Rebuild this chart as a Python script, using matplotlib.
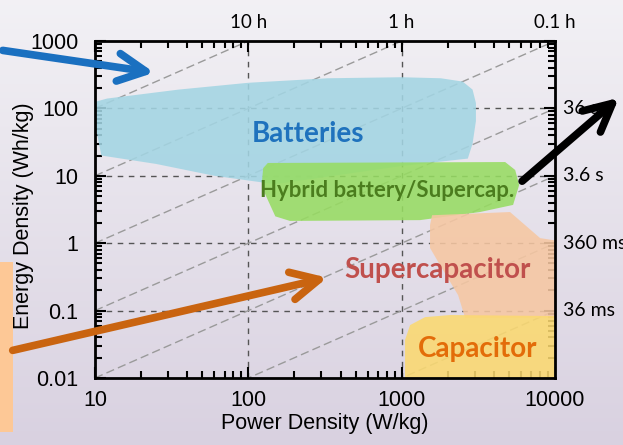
import matplotlib.pyplot as plt
import numpy as np
from matplotlib.patches import FancyArrowPatch, Polygon, Rectangle
from matplotlib.ticker import LogLocator, NullFormatter

plt.switch_backend("Agg")

# Region outlines, (power W/kg, energy Wh/kg)
batteries = [(10, 125), (12, 140), (35, 190), (100, 240), (330, 280), (1000, 290),
             (1800, 280), (2500, 250), (2900, 190), (3050, 120), (3050, 65),
             (2900, 30), (2700, 18), (1000, 14), (150, 7.5), (60, 10), (25, 15),
             (11, 20), (10, 60)]
hybrid = [(134, 15.5), (4730, 16), (5500, 12.2), (5840, 7.3), (5330, 3.7),
          (3240, 2.9), (1318, 2.2), (187, 2.14), (150, 2.5), (128, 5.5),
          (123, 8.7), (125, 13)]
supercap = [(1578, 2.6), (5090, 2.9), (8000, 1.19), (10000, 1.1), (10000, 0.078),
            (2594, 0.078), (2333, 0.17), (1778, 0.475), (1531, 0.85), (1531, 1.86)]
capacitor = [(1052, 0.01), (1052, 0.0367), (1135, 0.061), (1422, 0.080),
             (2070, 0.086), (10000, 0.083), (10000, 0.01)]

region_colors = ["#a3d5e3", "#97dc62", "#f6c7a2", "#fbd970"]
region_names = ["Batteries", "Hybrid battery/Supercap.", "Supercapacitor", "Capacitor"]
name_pos = [(245, 41), (800, 6.1), (1700, 0.40), (3150, 0.027)]
name_colors = ["#1f72bd", "#4b7d1e", "#c0504d", "#e36c09"]
name_sizes = [20, 16, 20, 20]

# constant discharge-time lines, in hours
time_lines = [10, 1, 0.1, 0.01, 0.001, 1e-4, 1e-5]
top_ticks = [100, 1000, 10000]
top_labels = ["10 h", "1 h", "0.1 h"]
right_ticks = [100, 10, 1, 0.1]
right_labels = ["36 s", "3.6 s", "360 ms", "36 ms"]

W, H = 623, 445
fig = plt.figure(figsize=(W / 100, H / 100), dpi=100)

# slide background
bg = fig.add_axes([0, 0, 1, 1], zorder=-10)
top_c = np.array([0.95, 0.945, 0.96])
bot_c = np.array([0.85, 0.82, 0.88])
t = np.linspace(0, 1, 200)[:, None, None]
bg.imshow(top_c * (1 - t) + bot_c * t, aspect="auto", extent=[0, 1, 0, 1])
bg.axis("off")

ax = fig.add_axes([95 / W, 1 - 378 / H, 460 / W, 337 / H])
ax.set_facecolor("none")
ax.set_xscale("log")
ax.set_yscale("log")
ax.set_xlim(10, 10000)
ax.set_ylim(0.01, 1000)

# dashed decade grid
for x in [100, 1000]:
    ax.axvline(x, color="#555555", lw=1, ls=(0, (4, 4)), zorder=1)
for y in [0.1, 1, 10, 100]:
    ax.axhline(y, color="#555555", lw=1, ls=(0, (4, 4)), zorder=1)

p = np.array([10, 10000])
for h in time_lines:
    ax.plot(p, p * h, color="#9a9a9a", lw=1, ls=(0, (6, 3)), zorder=1)

for pts, c in zip([batteries, hybrid, supercap, capacitor], region_colors):
    ax.add_patch(Polygon(pts, closed=True, facecolor=c, edgecolor="none",
                         alpha=0.88, zorder=2))

for name, (x, y), c, s in zip(region_names, name_pos, name_colors, name_sizes):
    ax.text(x, y, name, color=c, fontsize=s, fontweight="bold", family="Lato",
            ha="center", va="center", zorder=3)

for sp in ax.spines.values():
    sp.set_linewidth(2)
    sp.set_zorder(5)
ax.xaxis.set_minor_locator(LogLocator(subs=np.arange(2, 10)))
ax.yaxis.set_minor_locator(LogLocator(subs=np.arange(2, 10), numticks=20))
ax.yaxis.set_major_locator(LogLocator(numticks=20))
ax.xaxis.set_minor_formatter(NullFormatter())
ax.yaxis.set_minor_formatter(NullFormatter())
ax.tick_params(which="both", direction="in", top=True, right=True, width=1.5)
ax.tick_params(which="major", length=8)
ax.tick_params(which="minor", length=5)
ax.tick_params(axis="y", pad=12, labelsize=15.5)
ax.tick_params(axis="x", pad=9, labelsize=15.5)
ax.set_xticks([10, 100, 1000, 10000])
ax.set_xticklabels(["10", "100", "1000", "10000"], family="Liberation Sans")
ax.set_yticks([0.01, 0.1, 1, 10, 100, 1000])
ax.set_yticklabels(["0.01", "0.1", "1", "10", "100", "1000"], family="Liberation Sans")
ax.set_xlabel("Power Density (W/kg)", fontsize=15.5, family="Liberation Sans",
              labelpad=1)

fig.text(23 / W, 1 - 216 / H, "Energy Density (Wh/kg)", rotation=90, fontsize=15.5,
         family="Liberation Sans", ha="center", va="center")

for x, lab in zip(top_ticks, top_labels):
    ax.annotate(lab, (x, 1000), xytext=(0, 7), textcoords="offset points",
                ha="center", va="bottom", fontsize=13.5, family="Lato")
for y, lab in zip(right_ticks, right_labels):
    ax.annotate(lab, (10000, y), xytext=(6, 0), textcoords="offset points",
                ha="left", va="center", fontsize=14, family="Lato",
                annotation_clip=False)

# slide decorations: side box and arrows
fig.add_artist(Rectangle((0, 13 / H), 13 / W, 170 / H, transform=fig.transFigure,
                         facecolor="#fdc896", edgecolor="none", zorder=6))
arrows = [((0, 395), (157, 372), "#1a70c0"),
          ((520, 262), (621, 349), "black"),
          ((10, 94), (330, 168), "#c96410")]
for (x0, y0), (x1, y1), c in arrows:
    fig.add_artist(FancyArrowPatch(
        (x0 / W, y0 / H), (x1 / W, y1 / H), transform=fig.transFigure,
        arrowstyle="->,head_length=1.0,head_width=0.5", mutation_scale=20,
        color=c, lw=5.5, zorder=7, capstyle="round", joinstyle="round"))

fig.savefig("out.png", dpi=100)
